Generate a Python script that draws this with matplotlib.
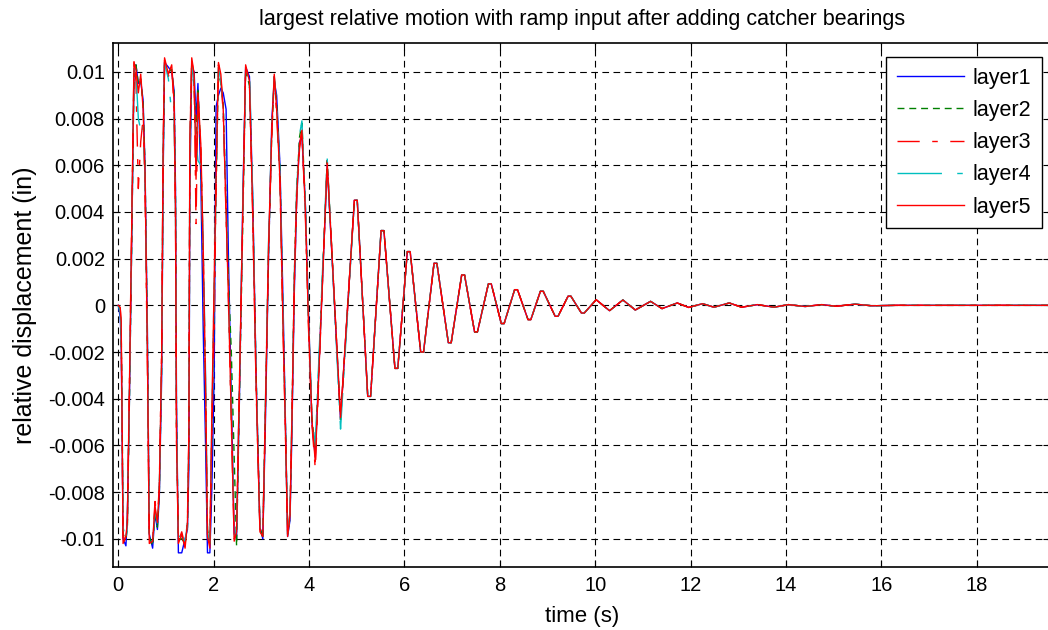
import numpy as np
import matplotlib
matplotlib.use('Agg')
import matplotlib.pyplot as plt

plt.rcParams['font.family'] = ['Liberation Sans', 'DejaVu Sans']

# time stamps (s) of the read-off turning points, start of the run
t_early = [0.00, 0.04, 0.06, 0.08, 0.10, 0.16, 0.19, 0.23, 0.28, 0.33,
           0.37, 0.42, 0.47, 0.52, 0.56, 0.61, 0.65, 0.72, 0.77, 0.82,
           0.86, 0.91, 0.94, 0.97, 1.05, 1.12, 1.17, 1.20, 1.22, 1.26,
           1.33, 1.40, 1.45, 1.48, 1.50, 1.54, 1.59, 1.63, 1.67, 1.73,
           1.78, 1.83, 1.87, 1.92, 1.96, 2.01, 2.05, 2.10, 2.15, 2.20,
           2.26, 2.31, 2.37, 2.43, 2.48, 2.54, 2.61, 2.67, 2.75, 2.82,
           2.89, 2.97, 3.03, 3.08, 3.15, 3.22, 3.27, 3.32, 3.39, 3.45,
           3.50, 3.55, 3.60, 3.64, 3.69, 3.74, 3.80, 3.85, 3.92, 3.99,
           4.06, 4.13, 4.38, 4.66]

# displacement (1e-3 in) of each layer at t_early
layer1_early = [0.0, -0.5, -1.5, -5.5, -10.0, -10.3, -9.0, -4.5, 2.5, 10.0,
                10.3, 9.5, 9.6, 8.8, 6.0, -1.0, -9.8, -10.4, -8.9, -9.6,
                -8.2, -3.0, 5.5, 10.4, 10.2, 10.0, 9.2, 5.0, -4.0, -10.6,
                -10.6, -10.0, -9.6, -7.0, 5.0, 10.2, 10.0, 8.0, 9.5, 5.5,
                -1.0, -6.0, -10.6, -10.6, -8.0, -3.0, 8.5, 9.0, 9.3, 9.1,
                8.4, 2.0, -4.0, -9.8, -10.0, -4.0, 4.5, 10.2, 9.8, 4.5,
                -3.0, -9.5, -10.0, -5.5, 2.0, 8.0, 9.6, 9.0, 6.0, 0.5,
                -4.5, -9.9, -9.2, -5.5, 0.5, 4.5, 7.0, 7.2, 4.5, -0.5,
                -5.0, -6.5, 6.0, -4.9]
layer2_early = [0.0, -0.2, -1.0, -4.5, -9.8, -10.0, -9.5, -4.5, 2.5, 10.0,
                10.3, 9.5, 9.7, 8.6, 6.0, -1.5, -9.9, -10.3, -8.8, -9.5,
                -8.0, -2.5, 6.0, 10.3, 10.0, 10.1, 9.0, 4.5, -5.0, -10.0,
                -10.0, -10.2, -9.5, -6.0, 6.0, 10.4, 9.4, 7.0, 9.3, 6.5,
                2.0, -4.0, -9.6, -10.2, -5.5, 0.5, 5.0, 10.0, 9.5, 8.6,
                4.5, 1.0, -2.0, -6.5, -10.3, -4.0, 3.5, 10.1, 9.4, 4.2,
                -3.0, -9.5, -10.0, -5.0, 2.2, 7.5, 9.7, 8.6, 5.8, -0.2,
                -4.6, -9.8, -9.1, -5.0, 1.2, 5.0, 7.2, 7.8, 4.4, -0.7,
                -4.8, -6.4, 6.2, -4.9]
layer3_early = [0.0, -0.1, -0.8, -5.2, -10.3, -9.8, -9.2, -3.8, 3.3, 10.5,
                9.6, 5.0, 7.0, 8.0, 5.0, -2.5, -10.1, -10.0, -8.4, -9.2,
                -7.7, -1.8, 6.8, 10.5, 9.8, 10.2, 8.5, 3.5, -5.8, -10.1,
                -9.7, -10.3, -9.2, -5.4, 7.1, 10.5, 9.8, 3.5, 8.9, 6.7,
                2.3, -3.6, -9.8, -10.3, -5.5, -1.0, 5.0, 10.3, 9.8, 8.2,
                3.7, 0.1, -5.1, -10.0, -9.6, -3.6, 3.7, 10.2, 9.5, 3.7,
                -3.6, -9.6, -9.8, -5.1, 2.3, 7.4, 9.8, 8.2, 5.2, -0.7,
                -5.1, -9.8, -8.8, -5.1, 0.8, 4.5, 6.7, 7.4, 4.0, -1.1,
                -5.1, -7.0, 6.2, -4.9]
layer4_early = [0.0, -0.3, -1.2, -4.8, -9.5, -10.1, -9.4, -4.2, 2.8, 10.2,
                10.0, 8.0, 7.5, 7.8, 5.5, -1.8, -9.8, -10.2, -8.7, -9.4,
                -8.0, -2.2, 6.4, 10.4, 9.7, 8.2, 8.0, 4.2, -5.2, -9.9,
                -9.9, -10.1, -9.4, -5.8, 6.6, 10.4, 9.6, 7.0, 6.2, 6.0,
                2.8, -3.0, -9.7, -10.2, -5.2, 0.8, 5.2, 10.2, 9.6, 8.5,
                4.1, 0.5, -4.6, -9.9, -9.6, -3.2, 4.1, 10.1, 10.1, 4.5,
                -3.2, -9.6, -9.8, -4.7, 2.7, 7.8, 9.8, 8.6, 5.6, -0.3,
                -4.7, -9.8, -8.9, -4.7, 1.2, 4.9, 7.3, 7.9, 4.4, -0.7,
                -4.7, -6.0, 6.3, -5.3]
layer5_early = [0.0, -0.1, -0.7, -5.0, -10.2, -9.9, -9.3, -4.0, 3.1, 10.4,
                10.1, 9.1, 9.9, 8.4, 5.7, -2.0, -10.2, -10.1, -8.6, -9.3,
                -7.9, -2.0, 6.6, 10.6, 9.9, 10.3, 8.7, 3.9, -5.6, -10.2,
                -9.8, -10.4, -9.3, -5.6, 6.9, 10.6, 9.9, 5.4, 9.1, 6.9,
                2.5, -3.4, -9.9, -10.4, -4.9, 1.0, 5.4, 10.4, 9.9, 8.4,
                3.9, 0.3, -4.9, -10.1, -9.7, -3.4, 3.9, 10.3, 9.6, 3.9,
                -3.4, -9.7, -9.9, -4.9, 2.5, 7.6, 9.9, 8.4, 5.4, -0.5,
                -4.9, -9.9, -9.0, -4.9, 1.0, 4.7, 6.9, 7.5, 4.2, -0.9,
                -4.9, -6.7, 6.1, -4.8]

# decaying part, all layers practically on top of each other
t_tail = [4.95, 5.01, 5.23, 5.29, 5.51, 5.57, 5.80, 5.86, 6.06, 6.12,
          6.34, 6.40, 6.62, 6.68, 6.92, 6.98, 7.20, 7.26, 7.47, 7.53,
          7.76, 7.82, 8.03, 8.09, 8.31, 8.37, 8.59, 8.65, 8.85, 8.91,
          9.16, 9.22, 9.43, 9.49, 9.71, 9.77,
          10.02, 10.30, 10.58, 10.84, 11.16, 11.40, 11.72, 11.96, 12.25, 12.49,
          12.81, 13.07, 13.40, 13.75, 14.05, 14.40, 14.75, 15.05, 15.45, 15.80,
          16.30, 19.60]
v_tail = [4.5, 4.5, -3.9, -3.9, 3.2, 3.2, -2.7, -2.7, 2.3, 2.3,
          -2.0, -2.0, 1.8, 1.8, -1.6, -1.6, 1.3, 1.3, -1.14, -1.14,
          0.92, 0.92, -0.78, -0.78, 0.67, 0.67, -0.61, -0.61, 0.6, 0.6,
          -0.47, -0.47, 0.39, 0.39, -0.33, -0.33,
          0.24, -0.23, 0.23, -0.2, 0.17, -0.14, 0.1, -0.09, 0.07, -0.08,
          0.1, -0.08, 0.03, -0.08, 0.03, -0.05, 0.03, -0.04, 0.05, -0.02,
          0.0, 0.0]

layers = ['layer1', 'layer2', 'layer3', 'layer4', 'layer5']
early = [layer1_early, layer2_early, layer3_early, layer4_early, layer5_early]
colors = ['#0000ff', '#008000', '#ff0000', '#00bfbf', '#ff0000']
styles = ['-', (0, (5, 3.5)), (0, (16, 9, 4, 9)), (0, (32, 11, 4, 11)), '-']

y_ticks = [0.01, 0.008, 0.006, 0.004, 0.002, 0, -0.002, -0.004, -0.006, -0.008, -0.01]
y_labels = ['0.01', '0.008', '0.006', '0.004', '0.002', '0', '-0.002', '-0.004', '-0.006', '-0.008', '-0.01']
x_ticks = [0, 2, 4, 6, 8, 10, 12, 14, 16, 18]

fig = plt.figure(figsize=(10.48, 6.3), dpi=100)
ax = fig.add_axes([0.1081, 0.0995, 0.8938, 0.8317])

for name, v, c, ls in zip(layers, early, colors, styles):
    t = np.array(t_early + t_tail)
    y = np.array(v + v_tail) * 1e-3
    ax.plot(t, y, color=c, linestyle=ls, linewidth=1.0, label=name)

ax.set_xlim(-0.105, 19.535)
ax.set_ylim(-0.01122, 0.01122)
ax.set_xticks(x_ticks)
ax.set_xticklabels([str(x) for x in x_ticks])
ax.set_yticks(y_ticks)
ax.set_yticklabels(y_labels)
ax.tick_params(direction='in', length=5, width=0.8, labelsize=14.5, top=True, right=True, pad=6)
ax.grid(True, color='black', linestyle=(0, (6, 4)), linewidth=0.8)
for s in ax.spines.values():
    s.set_linewidth(1.2)

ax.set_title('largest relative motion with ramp input after adding catcher bearings', fontsize=15.5, pad=13)
ax.set_xlabel('time (s)', fontsize=16, labelpad=8)
ax.set_ylabel('relative displacement (in)', fontsize=18, labelpad=8)

leg = ax.legend(loc='upper right', bbox_to_anchor=(0.9914, 0.974), borderaxespad=0,
                fontsize=15.5, handlelength=3.1, handletextpad=0.4, fancybox=False,
                framealpha=1, edgecolor='black', borderpad=0.5, labelspacing=0.52)
leg.get_frame().set_linewidth(1.0)

fig.savefig('out.png', dpi=100)
